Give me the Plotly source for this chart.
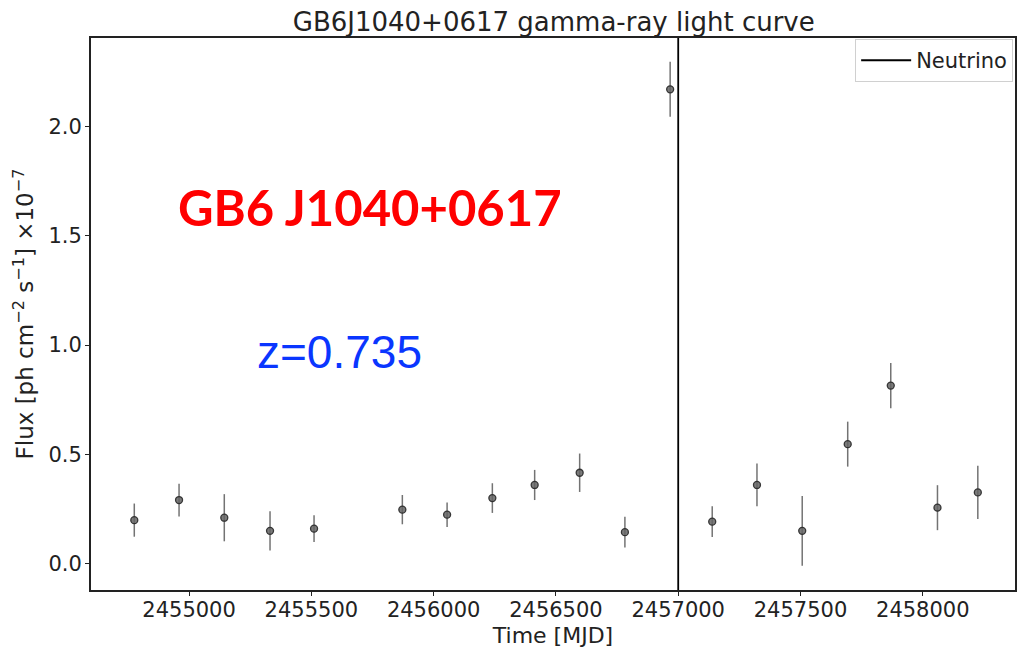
import plotly.graph_objects as go

# Data
time_mjd = [2454776, 2454959, 2455144, 2455331, 2455511, 2455872, 2456055, 2456240,
            2456413, 2456597, 2456782, 2456967, 2457139, 2457322, 2457507, 2457693,
            2457869, 2458060, 2458225]
flux = [0.198, 0.290, 0.209, 0.149, 0.159, 0.246, 0.223, 0.299,
        0.359, 0.415, 0.143, 2.171, 0.191, 0.359, 0.149, 0.546,
        0.814, 0.255, 0.325]
flux_err = [0.076, 0.075, 0.108, 0.090, 0.061, 0.067, 0.056, 0.068,
            0.069, 0.088, 0.070, 0.126, 0.070, 0.098, 0.160, 0.103,
            0.104, 0.103, 0.122]
neutrino_time = 2457000

x_range = [2454599, 2458377]
y_range = [-0.122, 2.406]
x_ticks = [2455000, 2455500, 2456000, 2456500, 2457000, 2457500, 2458000]
y_ticks = [0.0, 0.5, 1.0, 1.5, 2.0]

fig = go.Figure()

fig.add_trace(go.Scatter(
    x=time_mjd, y=flux, mode="markers", showlegend=False,
    marker=dict(size=7, color="rgba(100,100,100,0.85)",
                line=dict(color="rgba(40,40,40,0.9)", width=1.3)),
    error_y=dict(type="data", array=flux_err, visible=True, width=0,
                 thickness=1.5, color="rgba(80,80,80,0.8)"),
))

fig.add_trace(go.Scatter(
    x=[neutrino_time, neutrino_time], y=y_range, mode="lines", name="Neutrino",
    line=dict(color="black", width=1.8), showlegend=True,
))

tick_font = dict(family="DejaVu Sans", size=21, color="#222")
title_font = dict(family="DejaVu Sans", size=22, color="#222")

fig.update_layout(
    width=1017, height=648,
    margin=dict(l=91, r=2, t=38, b=58),
    paper_bgcolor="white", plot_bgcolor="white",
    title=dict(text="GB6J1040+0617 gamma-ray light curve", x=0.5445, xanchor="center",
               y=0.966, yanchor="middle",
               font=dict(family="DejaVu Sans", size=26, color="#222")),
    font=dict(family="DejaVu Sans", color="#222"),
    legend=dict(x=0.998, y=0.998, xanchor="right", yanchor="top",
                bgcolor="white", bordercolor="#d0d0d0", borderwidth=1,
                itemwidth=50,
                font=dict(family="DejaVu Sans", size=21, color="#222")),
    xaxis=dict(range=x_range, tickvals=x_ticks, tickformat="d",
               showgrid=False, zeroline=False, automargin=False,
               showline=True, linecolor="#222", linewidth=2, mirror=True,
               ticks="outside", ticklen=4, tickcolor="#222",
               ticklabelstandoff=-4,
               tickfont=tick_font,
               title=dict(text="Time [MJD]", font=title_font, standoff=8)),
    yaxis=dict(range=y_range, tickvals=y_ticks, tickformat=".1f",
               showgrid=False, zeroline=False, automargin=False,
               showline=True, linecolor="#222", linewidth=2, mirror=True,
               ticks="outside", ticklen=4, tickcolor="#222",
               ticklabelstandoff=-1,
               tickfont=tick_font,
               title=dict(text="Flux [ph cm<sup>−2</sup> s<sup>−1</sup>] ×10<sup>−7</sup>",
                          font=dict(family="DejaVu Sans", size=23, color="#222"),
                          standoff=8)),
    annotations=[
        dict(text="<b>GB6 J1040+0617</b>", x=0.3016, y=0.694, xref="paper", yref="paper",
             showarrow=False, xanchor="center", yanchor="middle",
             font=dict(family="Lato", size=49, color="#ff0000")),
        dict(text="z=0.735", x=0.269, y=0.431, xref="paper", yref="paper",
             showarrow=False, xanchor="center", yanchor="middle",
             font=dict(family="Liberation Sans", size=46, color="#0a36ff")),
    ],
)

fig.write_html("out.html")
